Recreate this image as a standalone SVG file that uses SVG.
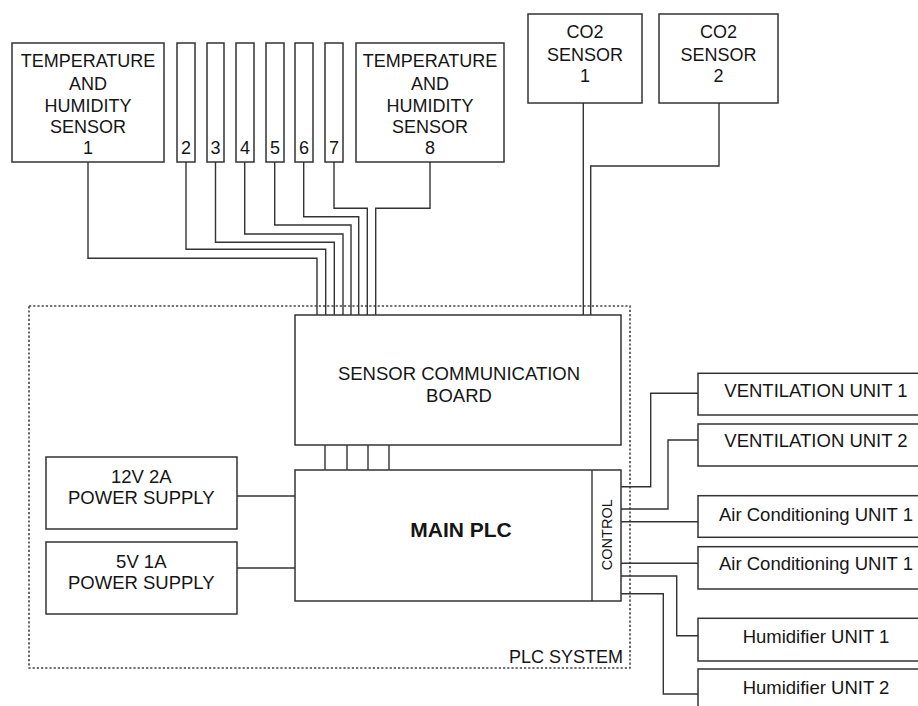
<svg xmlns="http://www.w3.org/2000/svg" width="918" height="706" viewBox="0 0 918 706">
<style>
.box{fill:#fff;stroke:#333;stroke-width:1.5}
.w{fill:none;stroke:#333;stroke-width:1.4}
.t{font-family:"Liberation Sans",Arial,sans-serif;font-size:18.5px;fill:#151515;text-anchor:middle}
.s{font-size:18px}
.b{font-weight:bold;font-size:21px}
.dot{fill:none;stroke:#444;stroke-width:1.6;stroke-dasharray:2.2 2}
</style>
<rect width="918" height="706" fill="#fff"/>
<g id="plc-system">
<rect class="dot" x="29" y="306" width="601" height="362"/>
<text class="t s" x="623" y="663" style="text-anchor:end">PLC SYSTEM</text>
</g>
<g id="connectors">
<path class="w" d="M88,162V258.3H317V315"/>
<path class="w" d="M186,162V249.3H325.7V315"/>
<path class="w" d="M215.5,162V242.3H334.3V315"/>
<path class="w" d="M244.7,162V234H343V315"/>
<path class="w" d="M274.7,162V225H351V315"/>
<path class="w" d="M303.7,162V216.7H358.7V315"/>
<path class="w" d="M334,162V208.3H367.3V315"/>
<path class="w" d="M430,162V208.3H375.7V315"/>
<path class="w" d="M583.3,103V315"/>
<path class="w" d="M719,103V166H590.7V315"/>
<path class="w" d="M325,445V470M347,445V470M368,445V470M389,445V470"/>
<path class="w" d="M237,496H295M237,568H295"/>
<path class="w" d="M621,486.7H650.7V393.3H698"/>
<path class="w" d="M621,509H668V440H698"/>
<path class="w" d="M621,521.7H698"/>
<path class="w" d="M621,563.3H698"/>
<path class="w" d="M621,576H676.7V635.7H698"/>
<path class="w" d="M621,593.7H663.3V694H698"/>
</g>
<g id="th1">
<rect class="box" x="12" y="43" width="152" height="119"/>
<text class="t s" x="88" y="67">TEMPERATURE</text>
<text class="t s" x="88" y="89.5">AND</text>
<text class="t s" x="88" y="111.5">HUMIDITY</text>
<text class="t s" x="88" y="133">SENSOR</text>
<text class="t s" x="88" y="153.5">1</text>
</g>
<g id="s2"><rect class="box" x="177" y="43" width="18" height="119"/><text class="t s" x="186" y="154">2</text></g>
<g id="s3"><rect class="box" x="207" y="43" width="17" height="119"/><text class="t s" x="215.5" y="154">3</text></g>
<g id="s4"><rect class="box" x="236" y="43" width="18" height="119"/><text class="t s" x="245" y="154">4</text></g>
<g id="s5"><rect class="box" x="266" y="43" width="18" height="119"/><text class="t s" x="275" y="154">5</text></g>
<g id="s6"><rect class="box" x="295" y="43" width="18" height="119"/><text class="t s" x="304" y="154">6</text></g>
<g id="s7"><rect class="box" x="325" y="43" width="18" height="119"/><text class="t s" x="334" y="154">7</text></g>
<g id="th8">
<rect class="box" x="356" y="43" width="148" height="119"/>
<text class="t s" x="430" y="67">TEMPERATURE</text>
<text class="t s" x="430" y="89.5">AND</text>
<text class="t s" x="430" y="111.5">HUMIDITY</text>
<text class="t s" x="430" y="133">SENSOR</text>
<text class="t s" x="430" y="153.5">8</text>
</g>
<g id="co2-1">
<rect class="box" x="528" y="14" width="114" height="89"/>
<text class="t s" x="585" y="38.3">CO2</text>
<text class="t s" x="585" y="60.5">SENSOR</text>
<text class="t s" x="585" y="82">1</text>
</g>
<g id="co2-2">
<rect class="box" x="659" y="14" width="119" height="89"/>
<text class="t s" x="718.5" y="38.3">CO2</text>
<text class="t s" x="718.5" y="60.5">SENSOR</text>
<text class="t s" x="718.5" y="82">2</text>
</g>
<g id="scb">
<rect class="box" x="295" y="315" width="326" height="130"/>
<text class="t" x="459" y="380">SENSOR COMMUNICATION</text>
<text class="t" x="459" y="401.7">BOARD</text>
</g>
<g id="main-plc">
<rect class="box" x="295" y="470" width="326" height="131"/>
<line class="w" x1="592" y1="470" x2="592" y2="601"/>
<text class="t b" x="461" y="536.7">MAIN PLC</text>
<text class="t" style="font-size:14.5px" transform="translate(611.5,534.7) rotate(-90)">CONTROL</text>
</g>
<g id="ps12">
<rect class="box" x="46" y="457" width="191" height="72"/>
<text class="t" x="141.3" y="483.3">12V 2A</text>
<text class="t" x="141.3" y="504">POWER SUPPLY</text>
</g>
<g id="ps5">
<rect class="box" x="46" y="542" width="191" height="72"/>
<text class="t" x="141.3" y="567.7">5V 1A</text>
<text class="t" x="141.3" y="589">POWER SUPPLY</text>
</g>
<g id="vent1"><rect class="box" x="698" y="373.3" width="240" height="41.7"/><text class="t" x="816" y="396.7">VENTILATION UNIT 1</text></g>
<g id="vent2"><rect class="box" x="698" y="424" width="240" height="42"/><text class="t" x="816" y="447.3">VENTILATION UNIT 2</text></g>
<g id="ac1"><rect class="box" x="698" y="495.7" width="240" height="41.6"/><text class="t" x="816" y="520.5">Air Conditioning UNIT 1</text></g>
<g id="ac2"><rect class="box" x="698" y="546.7" width="240" height="42.3"/><text class="t" x="816" y="570">Air Conditioning UNIT 1</text></g>
<g id="hum1"><rect class="box" x="698" y="618.3" width="240" height="42.7"/><text class="t" x="816" y="643.3">Humidifier UNIT 1</text></g>
<g id="hum2"><rect class="box" x="698" y="669" width="240" height="50"/><text class="t" x="816" y="694.3">Humidifier UNIT 2</text></g>
</svg>
